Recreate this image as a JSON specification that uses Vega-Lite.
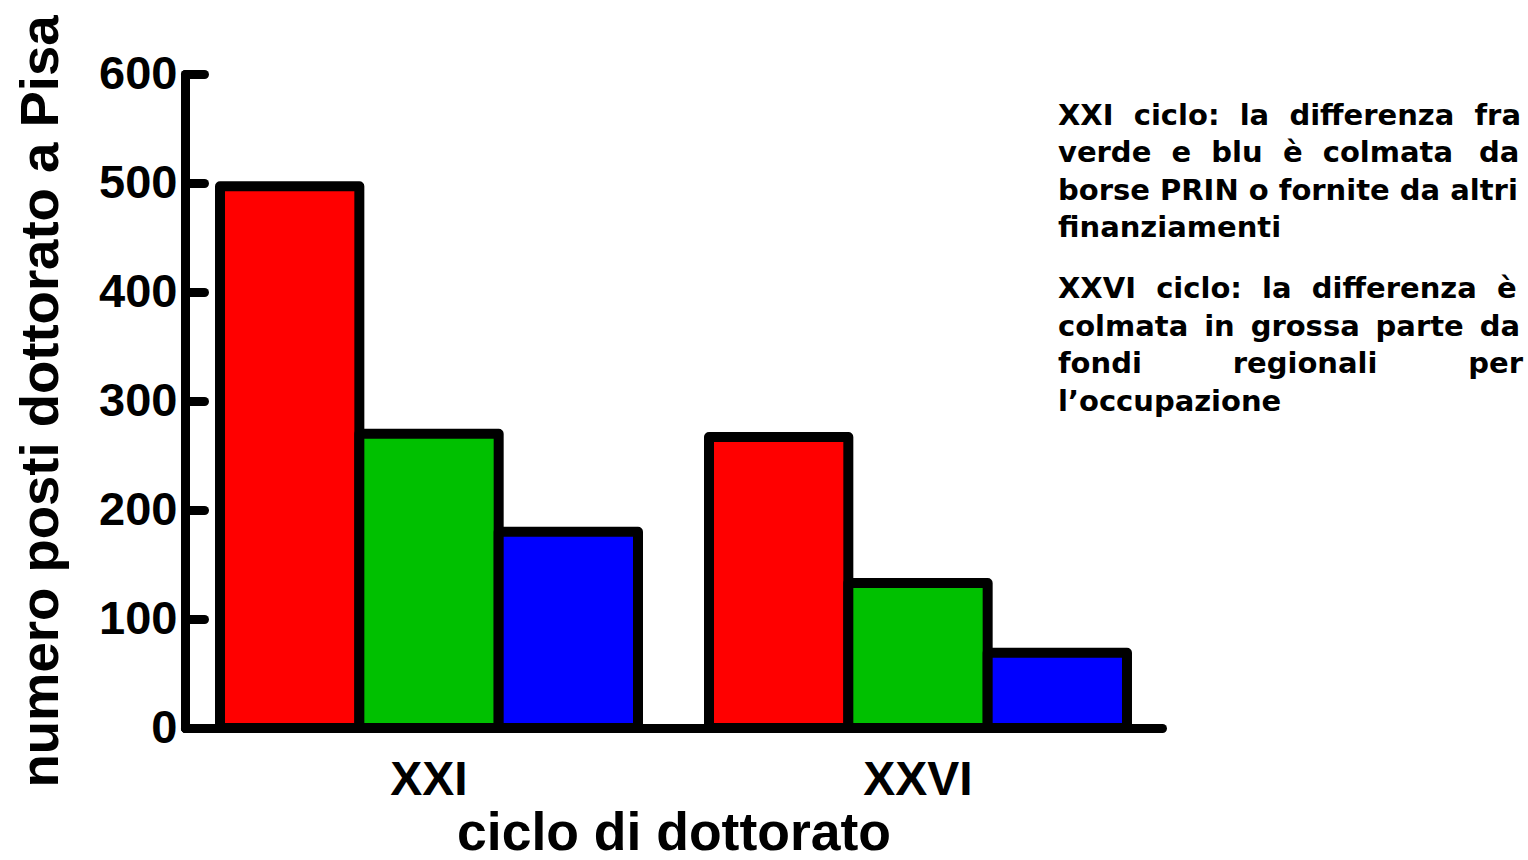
{
  "$schema": "https://vega.github.io/schema/vega-lite/v6.json",
  "width": 977,
  "height": 654,
  "autosize": {"type": "none"},
  "padding": {"left": 185, "top": 74, "right": 366, "bottom": 132},
  "background": "white",
  "data": {
    "values": [
      {"ciclo": "XXI", "serie": "rosso", "valore": 497},
      {"ciclo": "XXI", "serie": "verde", "valore": 270},
      {"ciclo": "XXI", "serie": "blu", "valore": 180},
      {"ciclo": "XXVI", "serie": "rosso", "valore": 267},
      {"ciclo": "XXVI", "serie": "verde", "valore": 133},
      {"ciclo": "XXVI", "serie": "blu", "valore": 69}
    ]
  },
  "title": {
    "text": ["XXI \u00a0ciclo: \u00a0la \u00a0differenza \u00a0fra", "verde \u00a0e \u00a0blu \u00a0è \u00a0colmata \u00a0\u2009da", "borse PRIN o fornite da altri", "finanziamenti"],
    "subtitle": ["XXVI \u00a0ciclo: \u00a0la \u00a0differenza \u00a0è", "colmata \u2009in \u2009grossa \u2009parte \u2009da", "fondi \u00a0\u00a0\u00a0\u00a0\u00a0\u00a0\u00a0\u00a0regionali \u00a0\u00a0\u00a0\u00a0\u00a0\u00a0\u00a0\u00a0per", "l’occupazione"],
    "anchor": "start",
    "frame": "group",
    "align": "left",
    "orient": "top",
    "offset": 0,
    "dx": 873,
    "dy": 402,
    "font": "DejaVu Sans",
    "fontSize": 29,
    "fontWeight": "bold",
    "color": "black",
    "lineHeight": 37.5,
    "subtitleFont": "DejaVu Sans",
    "subtitleFontSize": 29,
    "subtitleFontWeight": "bold",
    "subtitleColor": "black",
    "subtitleLineHeight": 37.5,
    "subtitlePadding": 32
  },
  "mark": {"type": "bar", "stroke": "black", "strokeWidth": 10, "strokeJoin": "round"},
  "encoding": {
    "x": {
      "field": "ciclo",
      "type": "nominal",
      "sort": ["XXI", "XXVI"],
      "scale": {"paddingInner": 0.1452, "paddingOuter": 0.0716},
      "axis": {
        "title": "ciclo di dottorato",
        "labelAngle": 0,
        "ticks": false,
        "domainColor": "black",
        "domainWidth": 9,
        "domainCap": "round",
        "labelFont": "Liberation Sans",
        "labelFontWeight": "bold",
        "labelFontSize": 48,
        "labelColor": "black",
        "labelPadding": 28,
        "titleFont": "Liberation Sans",
        "titleFontWeight": "bold",
        "titleFontSize": 53.5,
        "titleColor": "black",
        "titlePadding": 3
      }
    },
    "xOffset": {
      "field": "serie",
      "type": "nominal",
      "sort": ["rosso", "verde", "blu"],
      "scale": {"paddingInner": 0, "paddingOuter": 0}
    },
    "y": {
      "field": "valore",
      "type": "quantitative",
      "scale": {"domain": [0, 600], "nice": false},
      "axis": {
        "title": "numero posti dottorato a Pisa",
        "values": [0, 100, 200, 300, 400, 500, 600],
        "grid": false,
        "domainColor": "black",
        "domainWidth": 9,
        "domainCap": "round",
        "tickColor": "black",
        "tickWidth": 9,
        "tickCap": "round",
        "tickSize": -19,
        "labelFont": "Liberation Sans",
        "labelFontWeight": "bold",
        "labelFontSize": 47,
        "labelColor": "black",
        "labelPadding": 27,
        "titleFont": "Liberation Sans",
        "titleFontWeight": "bold",
        "titleFontSize": 54.5,
        "titleColor": "black",
        "titlePadding": 30
      }
    },
    "color": {
      "field": "serie",
      "type": "nominal",
      "scale": {"domain": ["rosso", "verde", "blu"], "range": ["#FF0000", "#00C000", "#0000FF"]},
      "legend": null
    }
  },
  "config": {"view": {"stroke": null}}
}
